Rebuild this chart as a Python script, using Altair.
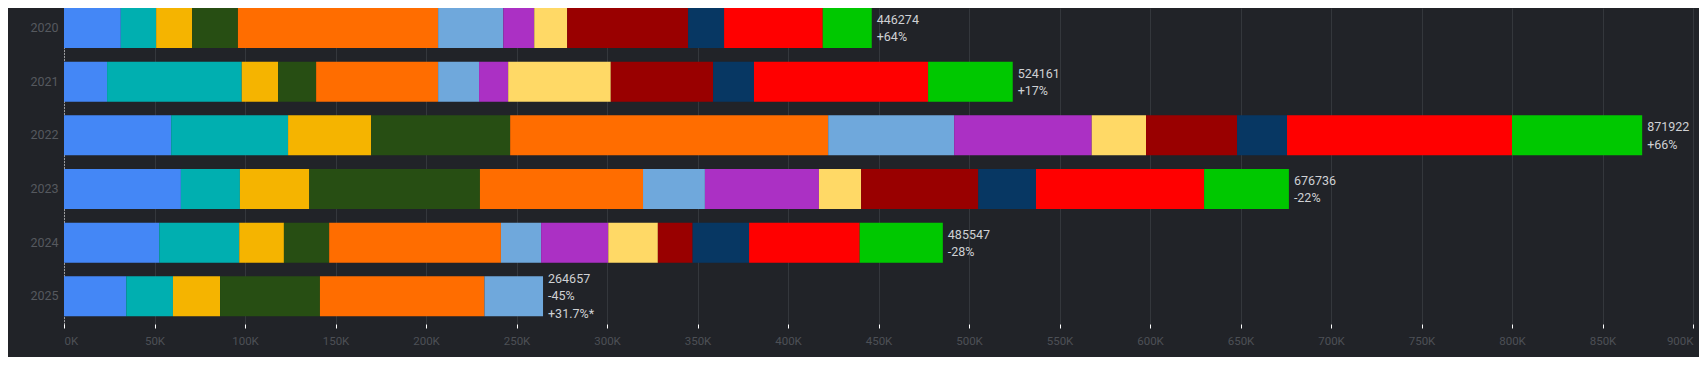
import altair as alt
import pandas as pd

years = ["2020", "2021", "2022", "2023", "2024", "2025"]
months = ["Jan", "Feb", "Mar", "Apr", "May", "Jun", "Jul", "Aug", "Sep", "Oct", "Nov", "Dec"]
month_colors = ["#4487F6", "#00AFB0", "#F5B400", "#274E13", "#FF6D00", "#6FA8DC",
                "#AB30C4", "#FFD966", "#990000", "#073763", "#FF0000", "#00C800"]

v2020 = [31400, 19500, 19900, 25300, 110600, 36000, 17100, 18200, 66800, 19900, 54500, 27074]
v2021 = [23800, 74400, 20100, 21000, 67400, 22600, 16100, 56700, 56500, 22600, 96200, 46761]
v2022 = [59200, 64600, 45900, 76800, 175700, 69600, 76000, 30000, 50300, 27600, 124300, 71922]
v2023 = [64600, 32600, 38300, 94300, 90100, 34200, 63000, 23300, 64700, 31900, 92900, 46836]
v2024 = [52600, 44200, 24700, 25000, 94900, 22200, 37100, 27400, 19200, 31200, 61100, 45947]
v2025 = [34400, 25800, 26000, 55200, 90900, 32357]

change_labels = ["+64%", "+17%", "+66%", "-22%", "-28%", "-45%"]
extra_labels = ["", "", "", "", "", "+31.7%*"]

x_ticks = [0, 50000, 100000, 150000, 200000, 250000, 300000, 350000, 400000,
           450000, 500000, 550000, 600000, 650000, 700000, 750000, 800000, 850000, 900000]

series = [v2020, v2021, v2022, v2023, v2024, v2025]

rows = []
for y, vals in zip(years, series):
    for i, v in enumerate(vals):
        rows.append({"year": y, "month": months[i], "m": i, "value": v})
df = pd.DataFrame(rows)

trows = []
for y, vals, c, e in zip(years, series, change_labels, extra_labels):
    tot = sum(vals)
    lab = f"{tot}\n{c}" + (f"\n{e}" if e else "")
    trows.append({"year": y, "total": tot, "label": lab, "nlines": lab.count("\n") + 1})
tdf = pd.DataFrame(trows)

FONT = "Roboto"
LH = 17.5

yscale = alt.Scale(domain=years, paddingInner=0.2546, paddingOuter=0.0717, align=0)
xscale = alt.Scale(domain=[0, 900000], nice=False)

bars = alt.Chart(df).mark_bar(cornerRadius=0).encode(
    x=alt.X("value:Q", stack="zero", scale=xscale, title=None,
            axis=alt.Axis(values=x_ticks, labelExpr="datum.value/1000 + 'K'",
                          grid=True, gridColor="#34373c", gridWidth=1,
                          domain=False, ticks=True, tickColor="#ffffff", tickSize=4,
                          labelColor="#4d5056", labelFont=FONT, labelFontSize=11.5,
                          labelPadding=7)),
    y=alt.Y("year:N", scale=yscale, title=None, sort=years,
            axis=alt.Axis(domain=True, domainColor="#ffffff", domainDash=[1, 2],
                          domainWidth=1, ticks=False, grid=False,
                          labelColor="#56595f", labelFont=FONT, labelFontSize=12.5,
                          labelPadding=6)),
    color=alt.Color("month:N", scale=alt.Scale(domain=months, range=month_colors), legend=None),
    order=alt.Order("m:Q", sort="ascending"),
)


def text_layer(n, dy):
    return alt.Chart(tdf).transform_filter(
        alt.datum.nlines == n
    ).mark_text(
        align="left", baseline="middle", dx=5, dy=dy, lineBreak="\n", lineHeight=LH,
        font=FONT, fontSize=12.5, color="#cfd1d4"
    ).encode(
        x=alt.X("total:Q", scale=xscale),
        y=alt.Y("year:N", scale=yscale, sort=years),
        text="label:N",
    )


texts2 = text_layer(2, -8)
texts3 = text_layer(3, -17.5)

chart = alt.layer(bars, texts2, texts3).properties(
    width=1629, height=316,
    background="#212328",
    padding={"left": 56, "top": 0, "right": 6, "bottom": 33},
    autosize=alt.AutoSizeParams(type="none"),
).configure_view(stroke=None)

chart.save("out.html", embed_options={"renderer": "svg", "actions": False})
